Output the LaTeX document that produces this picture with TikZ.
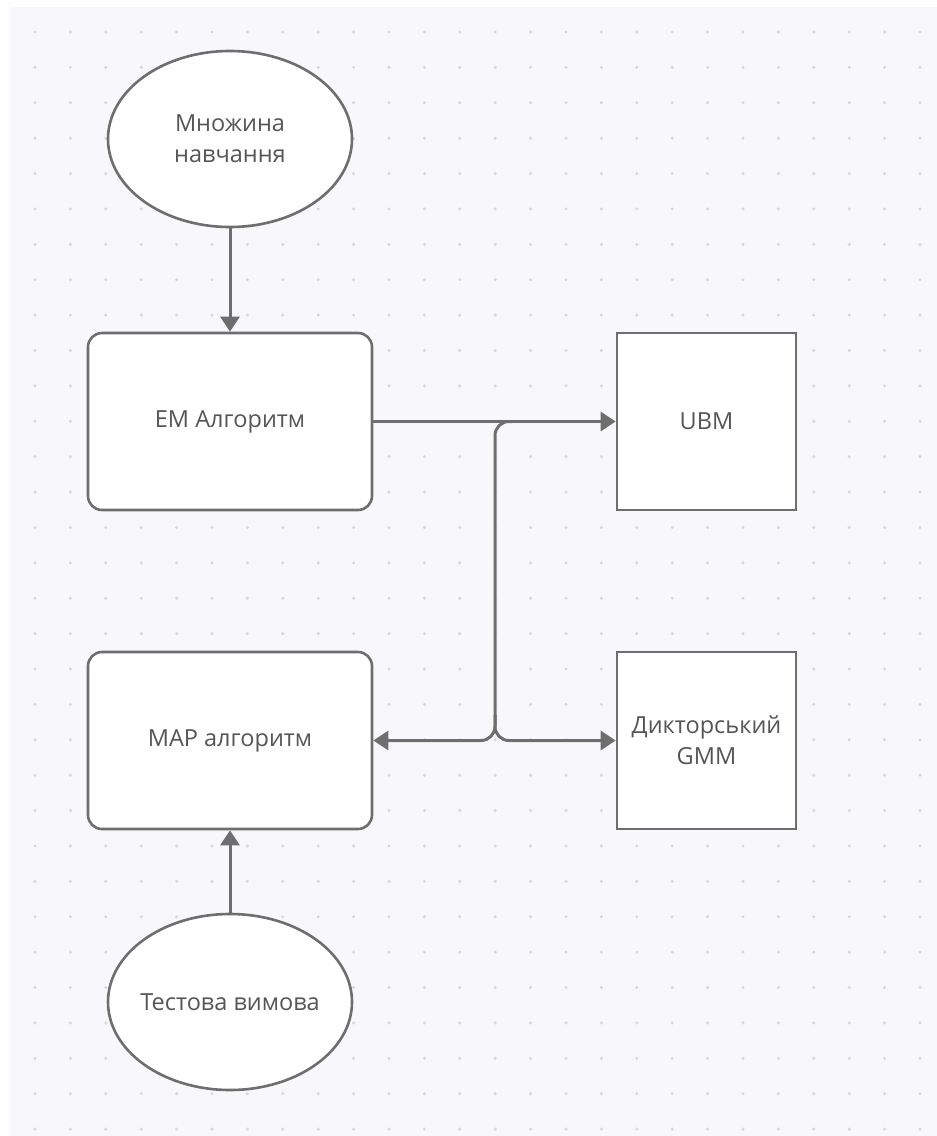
\documentclass[tikz,border=0pt]{standalone}
\usepackage{fontspec}
\setmainfont{Open Sans}
\usetikzlibrary{shapes.geometric,arrows.meta}
\definecolor{canvas}{HTML}{F8F8FC}
\definecolor{dotc}{HTML}{D8D8DC}
\definecolor{linec}{HTML}{6E6E6E}
\definecolor{textc}{HTML}{555555}
\tikzset{
  txt/.style={text=textc,font=\fontsize{23.5}{31}\selectfont,align=center},
  shapeline/.style={draw=linec,line width=2.6pt,fill=white,txt},
  oval/.style={shapeline,ellipse,minimum width=244pt,minimum height=176pt,inner sep=0pt},
  rbox/.style={shapeline,rectangle,rounded corners=14pt,minimum width=284pt,minimum height=177pt,inner sep=0pt},
  sbox/.style={shapeline,rectangle,minimum width=179pt,minimum height=177pt,inner sep=0pt},
  conn/.style={draw=linec,line width=3pt,-{Triangle[length=15pt,width=19pt]}},
}
\begin{document}
\begin{tikzpicture}[x=1pt,y=-1pt]
\useasboundingbox (0,0) rectangle (937,1136);
\fill[white] (0,0) rectangle (937,1136);
\fill[canvas] (10,7) rectangle (937,1136);
\foreach \i in {0,...,25}{
  \foreach \j in {0,...,31}{
    \fill[dotc] ({35+35.4*\i},{32+35.39*\j}) circle (1.7pt);
  }
}
\node[oval,label={[txt]center:Множина\\навчання}] (train) at (230,139) {};
\node[rbox] (em) at (230,421.5) {EM Алгоритм};
\node[sbox] (ubm) at (706.5,421.5) {UBM};
\node[rbox] (map) at (230,740.5) {MAP алгоритм};
\node[sbox] (gmm) at (706.5,740.5) {Дикторський\\GMM};
\node[oval,label={[txt]center:Тестова вимова}] (test) at (230,1002) {};
\coordinate (jt) at (512,421.5);
\coordinate (jb) at (495,715);
\draw[conn] (train) -- (em);
\draw[conn] (test) -- (map);
\draw[conn] (em) -- (ubm);
\draw[conn,rounded corners=14pt] (jt) -- (495,421.5) |- (map.east);
\draw[conn,rounded corners=14pt] (jb) |- (gmm.west);
\end{tikzpicture}
\end{document}
